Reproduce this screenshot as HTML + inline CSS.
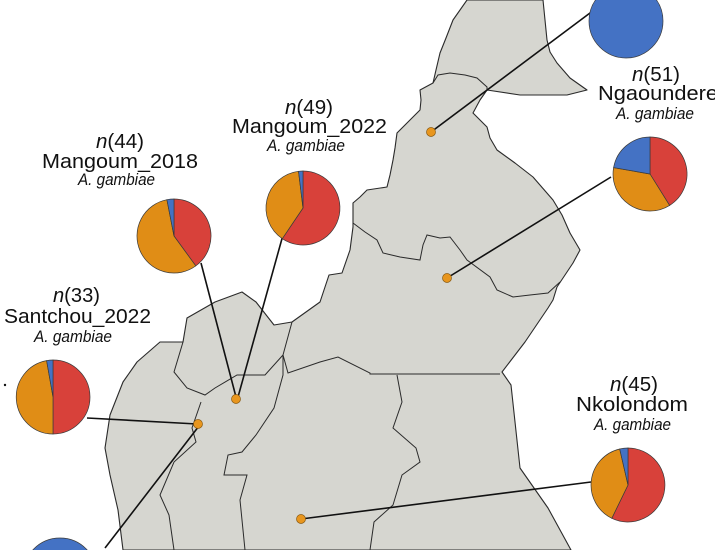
<!DOCTYPE html>
<html><head><meta charset="utf-8"><style>
html,body{margin:0;padding:0;background:#fff;width:715px;height:550px;overflow:hidden;}
svg{display:block;overflow:hidden;}
text{font-family:"Liberation Sans",sans-serif;fill:#111;}
.t{font-size:20px;}
.i{font-size:17px;font-style:italic;}
</style></head><body>
<svg width="715" height="550" viewBox="0 0 715 550" xmlns="http://www.w3.org/2000/svg">
<g fill="#d6d6d0" stroke="#2a2a2a" stroke-width="1.1" stroke-linejoin="round">
<path d="M467,0 L453,20 L446,38 L440,53 L436,70 L433,83 L420,90 L421,100 L420,110 L408,122 L397,133 L395,148 L393,160 L390,175 L387,187 L367,190 L360,197 L353,203 L353,227 L350,250 L342,273 L329,275 L320,302 L292,322 L274,325 L256,302 L242,292 L215,302 L187,318 L183,342 L160,342 L137,362 L123,382 L110,415 L105,448 L110,475 L118,510 L123,550 L571,550 L548,508 L520,468 L511,385 L502,372 L525,342 L548,308 L553,300 L557,287 L573,263 L580,250 L570,233 L562,215 L553,200 L533,177 L515,163 L497,150 L490,138 L487,127 L473,113 L480,100 L487,90 L520,95 L567,95 L587,90 L570,78 L557,63 L550,52 L547,40 L545,20 L543,0 Z"/>
</g>
<g fill="none" stroke="#2a2a2a" stroke-width="1">
<path d="M433,83 L438,75 L450,73 L465,75 L477,78 L487,87 L487,90"/>
<path d="M353,223 L365,232 L377,240 L383,253 L400,257 L420,260 L423,245 L427,235 L440,238 L450,237 L460,250 L467,260 L490,277 L497,290 L513,297 L530,295 L548,293 L560,282"/>
<path d="M283,355 L288,373 L320,362 L338,357 L370,373 L370,374 L500,374"/>
<path d="M397,375 L402,402 L393,428 L416,448 L420,462 L402,475 L393,505 L374,522 L370,550"/>
<path d="M283,355 L283,375 L274,408 L256,435 L242,452 L228,455 L224,475 L247,475 L240,500 L245,550"/>
<path d="M183,342 L174,372 L187,388 L205,395 L215,388 L237,375 L265,375 L283,355 L292,322"/>
<path d="M201,402 L192,428 L196,442 L174,462 L160,495 L169,515 L174,550"/>
</g>
<g stroke="#111" stroke-width="1.6">
<line x1="594" y1="10" x2="431" y2="132"/>
<line x1="611" y1="177" x2="447" y2="278"/>
<line x1="201" y1="263" x2="236" y2="397"/>
<line x1="283" y1="235" x2="238" y2="397"/>
<line x1="87" y1="418" x2="197" y2="424"/>
<line x1="105" y1="548" x2="199" y2="426"/>
<line x1="591" y1="482" x2="301" y2="519"/>
</g>
<g fill="#e8961e" stroke="#8a5a10" stroke-width="0.7">
<circle cx="431" cy="132" r="4.5"/>
<circle cx="447" cy="278" r="4.5"/>
<circle cx="236" cy="399" r="4.5"/>
<circle cx="198" cy="424" r="4.5"/>
<circle cx="301" cy="519" r="4.5"/>
</g>
<g stroke="#3a3a3a" stroke-width="0.7">
<circle cx="626" cy="21" r="37" fill="#4472c4"/>
<circle cx="60" cy="575" r="37" fill="#4472c4"/>
<path d="M174,236 L174,199 A37,37 0 0 1 195.8,265.9 Z" fill="#d8413a"/>
<path d="M174,236 L195.8,265.9 A37,37 0 1 1 166.9,199.7 Z" fill="#e08d16"/>
<path d="M174,236 L166.9,199.7 A37,37 0 0 1 174,199 Z" fill="#4472c4"/>
<path d="M303,208 L303,171 A37,37 0 1 1 282.3,238.7 Z" fill="#d8413a"/>
<path d="M303,208 L282.3,238.7 A37,37 0 0 1 298.5,171.3 Z" fill="#e08d16"/>
<path d="M303,208 L298.5,171.3 A37,37 0 0 1 303,171 Z" fill="#4472c4"/>
<path d="M650,174 L650,137 A37,37 0 0 1 669.6,205.4 Z" fill="#d8413a"/>
<path d="M650,174 L669.6,205.4 A37,37 0 0 1 613.6,167.6 Z" fill="#e08d16"/>
<path d="M650,174 L613.6,167.6 A37,37 0 0 1 650,137 Z" fill="#4472c4"/>
<path d="M53,397 L53,360 A37,37 0 0 1 53,434 Z" fill="#d8413a"/>
<path d="M53,397 L53,434 A37,37 0 0 1 46.6,360.6 Z" fill="#e08d16"/>
<path d="M53,397 L46.6,360.6 A37,37 0 0 1 53,360 Z" fill="#4472c4"/>
<path d="M628,485 L628,448 A37,37 0 1 1 611.8,518.3 Z" fill="#d8413a"/>
<path d="M628,485 L611.8,518.3 A37,37 0 0 1 619.7,449 Z" fill="#e08d16"/>
<path d="M628,485 L619.7,449 A37,37 0 0 1 628,448 Z" fill="#4472c4"/>
</g>
<g text-anchor="start">
<text class="t" x="96" y="148" textLength="48" lengthAdjust="spacingAndGlyphs"><tspan font-style="italic">n</tspan>(44)</text>
<text class="t" x="42" y="168" textLength="156" lengthAdjust="spacingAndGlyphs">Mangoum_2018</text>
<text class="i" x="78" y="185" textLength="77" lengthAdjust="spacingAndGlyphs">A. gambiae</text>
<text class="t" x="285" y="114" textLength="48" lengthAdjust="spacingAndGlyphs"><tspan font-style="italic">n</tspan>(49)</text>
<text class="t" x="232" y="133" textLength="155" lengthAdjust="spacingAndGlyphs">Mangoum_2022</text>
<text class="i" x="267" y="151" textLength="78" lengthAdjust="spacingAndGlyphs">A. gambiae</text>
<text class="t" x="632" y="81" textLength="48" lengthAdjust="spacingAndGlyphs"><tspan font-style="italic">n</tspan>(51)</text>
<text class="t" x="598" y="100" textLength="120" lengthAdjust="spacingAndGlyphs">Ngaoundere</text>
<text class="i" x="616" y="119" textLength="78" lengthAdjust="spacingAndGlyphs">A. gambiae</text>
<text class="t" x="53" y="302" textLength="47" lengthAdjust="spacingAndGlyphs"><tspan font-style="italic">n</tspan>(33)</text>
<text class="t" x="4" y="323" textLength="147" lengthAdjust="spacingAndGlyphs">Santchou_2022</text>
<text class="i" x="34" y="342" textLength="78" lengthAdjust="spacingAndGlyphs">A. gambiae</text>
<text class="t" x="610" y="391" textLength="48" lengthAdjust="spacingAndGlyphs"><tspan font-style="italic">n</tspan>(45)</text>
<text class="t" x="576" y="411" textLength="112" lengthAdjust="spacingAndGlyphs">Nkolondom</text>
<text class="i" x="594" y="430" textLength="77" lengthAdjust="spacingAndGlyphs">A. gambiae</text>
</g>
<circle cx="5" cy="385" r="1.2" fill="#111"/>
</svg>
</body></html>
